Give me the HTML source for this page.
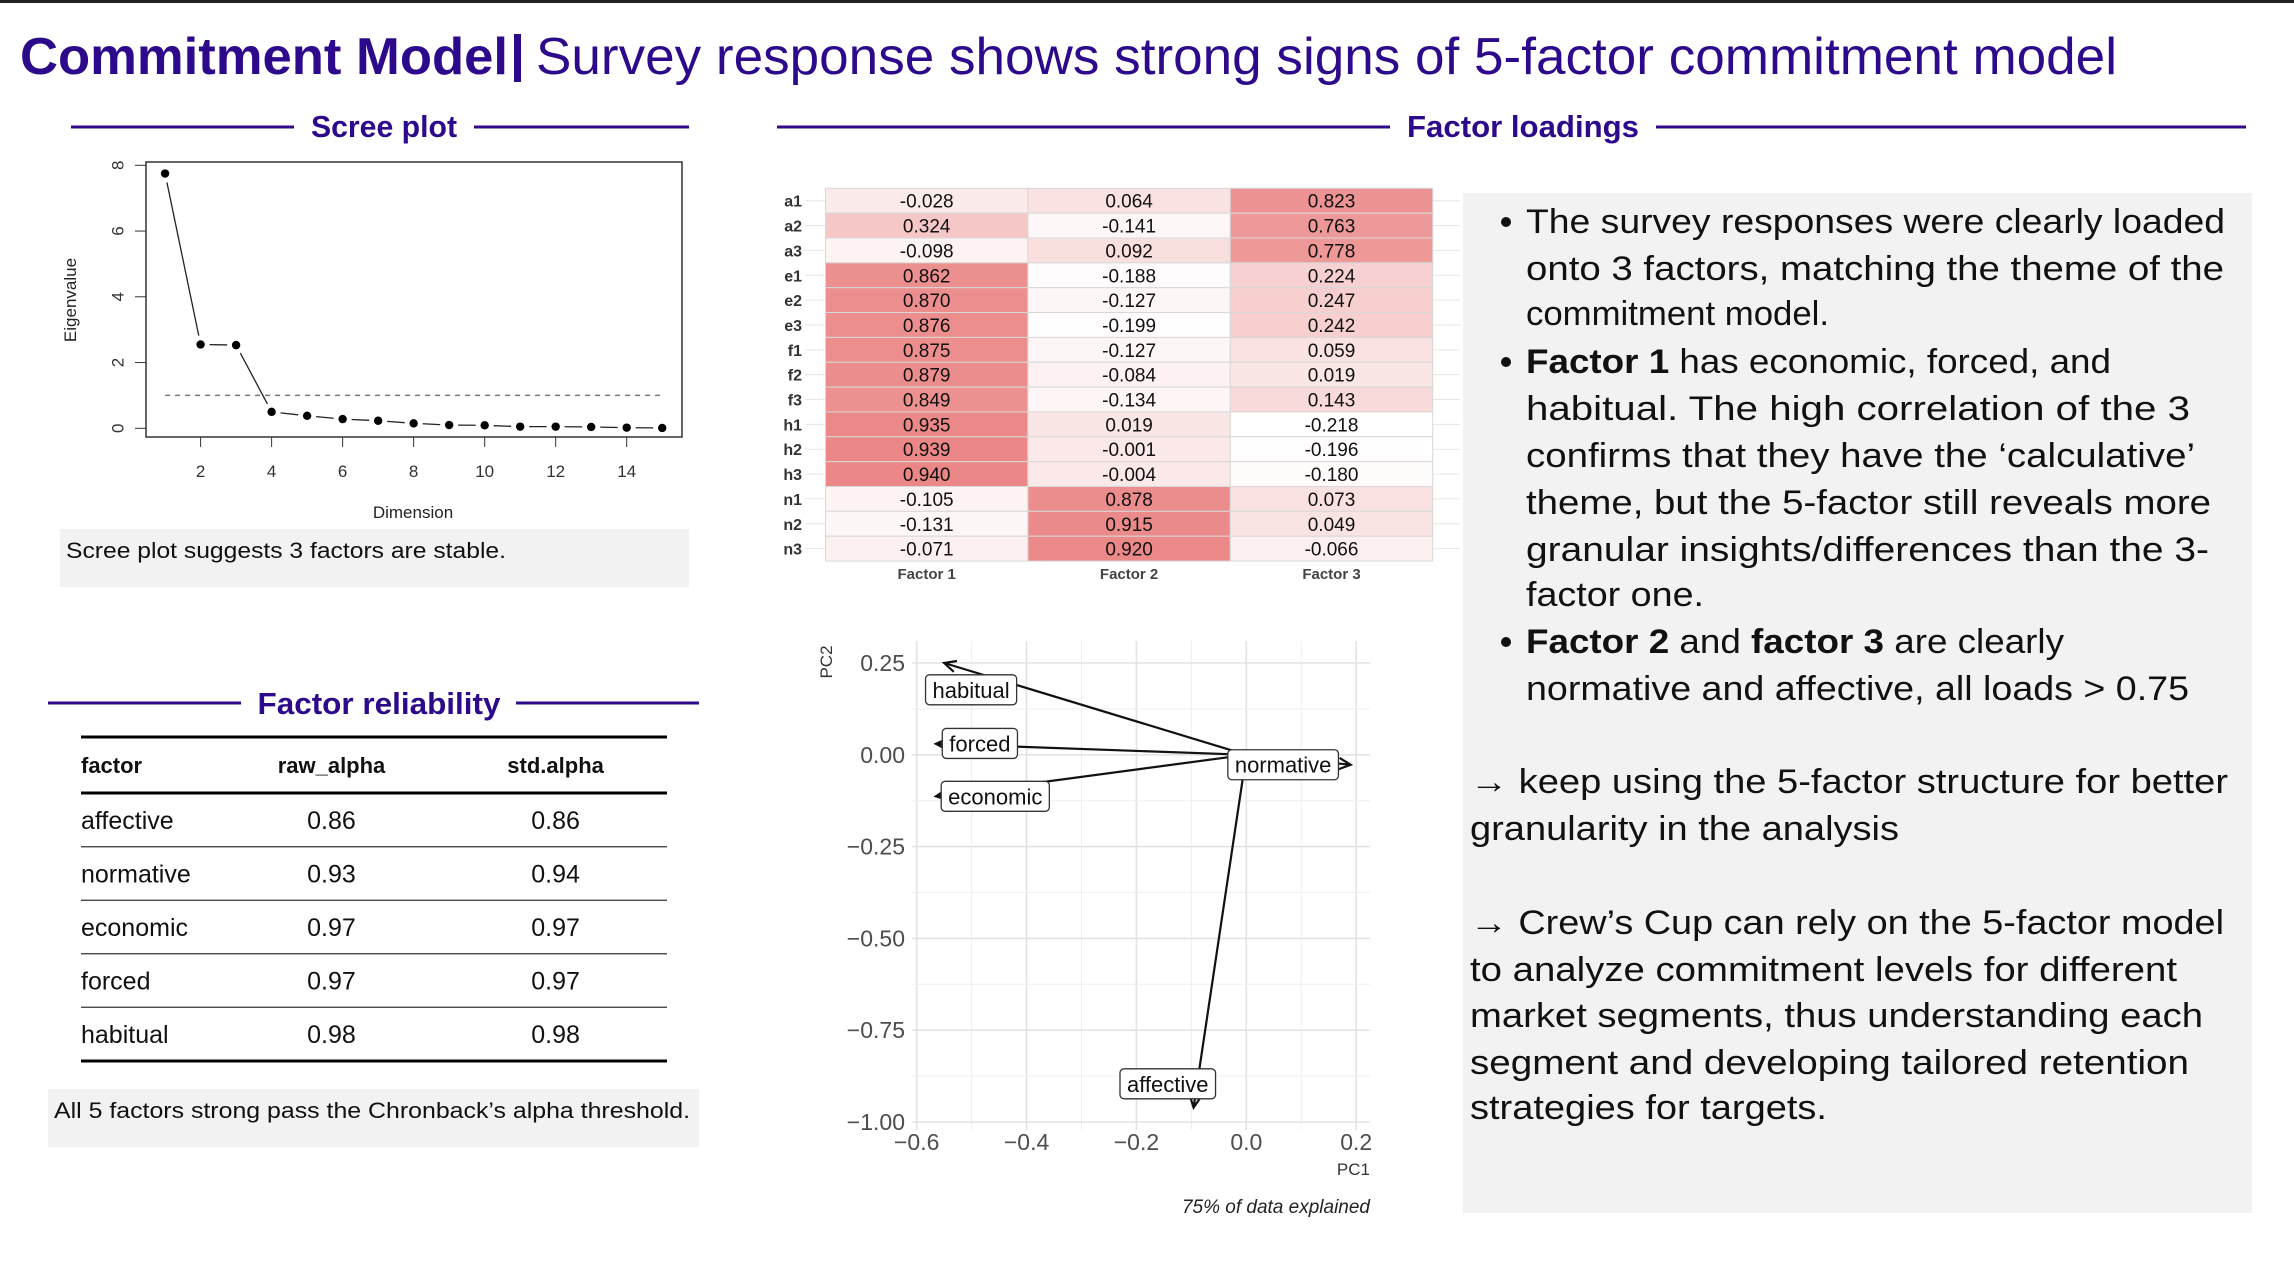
<!DOCTYPE html>
<html><head><meta charset="utf-8"><style>
html,body{margin:0;padding:0;background:#fff}
svg{display:block;font-family:"Liberation Sans",sans-serif}
</style></head><body>
<svg id="root" width="2294" height="1288" viewBox="0 0 2294 1288" xmlns="http://www.w3.org/2000/svg">
<rect x="0" y="0" width="2294" height="3" fill="#222"/>
<g fill="#2d0a8c">
<text x="20" y="74" font-size="52" font-weight="bold" textLength="488" lengthAdjust="spacingAndGlyphs">Commitment Model</text>
<rect x="514" y="34" width="7" height="48" fill="#2d0a8c"/>
<text x="536" y="74" font-size="52" textLength="1581" lengthAdjust="spacingAndGlyphs">Survey response shows strong signs of 5-factor commitment model</text>
</g>
<g fill="#2d0a8c" font-weight="bold" font-size="31" text-anchor="middle">
<g><line x1="71" y1="127" x2="294" y2="127" stroke="#2d0a8c" stroke-width="3"/><line x1="474" y1="127" x2="689" y2="127" stroke="#2d0a8c" stroke-width="3"/><text x="384" y="137" textLength="146" lengthAdjust="spacingAndGlyphs">Scree plot</text></g>
<g><line x1="777" y1="127" x2="1390" y2="127" stroke="#2d0a8c" stroke-width="3"/><line x1="1656" y1="127" x2="2246" y2="127" stroke="#2d0a8c" stroke-width="3"/><text x="1523" y="137" textLength="232" lengthAdjust="spacingAndGlyphs">Factor loadings</text></g>
<g><line x1="48" y1="703" x2="241" y2="703" stroke="#2d0a8c" stroke-width="3"/><line x1="516" y1="703" x2="699" y2="703" stroke="#2d0a8c" stroke-width="3"/><text x="379" y="714" textLength="243" lengthAdjust="spacingAndGlyphs">Factor reliability</text></g>
</g>
<g id="scree"></g>
<rect x="60" y="529" width="629" height="58" fill="#f2f2f2"/>
<text x="66" y="558" font-size="22" fill="#111" textLength="440" lengthAdjust="spacingAndGlyphs">Scree plot suggests 3 factors are stable.</text>
<g id="heat"></g>
<g id="bip"></g>
<g id="tbl"></g>
<rect x="48" y="1089" width="651" height="58" fill="#f2f2f2"/>
<text x="54" y="1118" font-size="22" fill="#111" textLength="636" lengthAdjust="spacingAndGlyphs">All 5 factors strong pass the Chronback’s alpha threshold.</text>
<rect x="1463" y="193" width="789" height="1020" fill="#f2f2f2"/>
<g font-size="34" fill="#111">
<circle cx="1506" cy="222" r="5" fill="#111"/><circle cx="1506" cy="362" r="5" fill="#111"/><circle cx="1506" cy="642" r="5" fill="#111"/>
<text x="1526" y="233" textLength="699" lengthAdjust="spacingAndGlyphs">The survey responses were clearly loaded</text>
<text x="1526" y="280" textLength="698" lengthAdjust="spacingAndGlyphs">onto 3 factors, matching the theme of the</text>
<text x="1526" y="325" textLength="303" lengthAdjust="spacingAndGlyphs">commitment model.</text>
<text x="1526" y="373" textLength="585" lengthAdjust="spacingAndGlyphs"><tspan font-weight="bold">Factor 1</tspan> has economic, forced, and</text>
<text x="1526" y="420" textLength="664" lengthAdjust="spacingAndGlyphs">habitual. The high correlation of the 3</text>
<text x="1526" y="467" textLength="669" lengthAdjust="spacingAndGlyphs">confirms that they have the ‘calculative’</text>
<text x="1526" y="514" textLength="685" lengthAdjust="spacingAndGlyphs">theme, but the 5-factor still reveals more</text>
<text x="1526" y="561" textLength="683" lengthAdjust="spacingAndGlyphs">granular insights/differences than the 3-</text>
<text x="1526" y="606" textLength="178" lengthAdjust="spacingAndGlyphs">factor one.</text>
<text x="1526" y="653" textLength="538" lengthAdjust="spacingAndGlyphs"><tspan font-weight="bold">Factor 2</tspan> and <tspan font-weight="bold">factor 3</tspan> are clearly</text>
<text x="1526" y="700" textLength="663" lengthAdjust="spacingAndGlyphs">normative and affective, all loads &gt; 0.75</text>
<text x="1470" y="793" textLength="758" lengthAdjust="spacingAndGlyphs">→ keep using the 5-factor structure for better</text>
<text x="1470" y="840" textLength="429" lengthAdjust="spacingAndGlyphs">granularity in the analysis</text>
<text x="1470" y="934" textLength="754" lengthAdjust="spacingAndGlyphs">→ Crew’s Cup can rely on the 5-factor model</text>
<text x="1470" y="981" textLength="707" lengthAdjust="spacingAndGlyphs">to analyze commitment levels for different</text>
<text x="1470" y="1027" textLength="733" lengthAdjust="spacingAndGlyphs">market segments, thus understanding each</text>
<text x="1470" y="1074" textLength="719" lengthAdjust="spacingAndGlyphs">segment and developing tailored retention</text>
<text x="1470" y="1119" textLength="357" lengthAdjust="spacingAndGlyphs">strategies for targets.</text>
</g>
</svg>
<script>
const NS='http://www.w3.org/2000/svg';
const screeDims=[1,2,3,4,5,6,7,8,9,10,11,12,13,14,15];
const screeEigen=[7.75,2.55,2.53,0.5,0.38,0.28,0.23,0.15,0.1,0.09,0.05,0.05,0.04,0.02,0.01];
const screeXTicks=[2,4,6,8,10,12,14];
const screeYTicks=[0,2,4,6,8];
const loadRows=['a1','a2','a3','e1','e2','e3','f1','f2','f3','h1','h2','h3','n1','n2','n3'];
const loadCols=['Factor 1','Factor 2','Factor 3'];
const loadF1=[-0.028,0.324,-0.098,0.862,0.870,0.876,0.875,0.879,0.849,0.935,0.939,0.940,-0.105,-0.131,-0.071];
const loadF2=[0.064,-0.141,0.092,-0.188,-0.127,-0.199,-0.127,-0.084,-0.134,0.019,-0.001,-0.004,0.878,0.915,0.920];
const loadF3=[0.823,0.763,0.778,0.224,0.247,0.242,0.059,0.019,0.143,-0.218,-0.196,-0.180,0.073,0.049,-0.066];
const bipNames=['habitual','forced','economic','normative','affective'];
const bipPC1=[-0.55,-0.565,-0.565,0.19,-0.096];
const bipPC2=[0.25,0.03,-0.113,-0.027,-0.961];
const bipLabelPC1=[-0.501,-0.485,-0.457,0.067,-0.143];
const bipLabelPC2=[0.177,0.031,-0.113,-0.027,-0.896];
const bipXTicks=[-0.6,-0.4,-0.2,0.0,0.2];
const bipYTicks=[0.25,0.00,-0.25,-0.50,-0.75,-1.00];
const relFactors=['affective','normative','economic','forced','habitual'];
const relRaw=['0.86','0.93','0.97','0.97','0.98'];
const relStd=['0.86','0.94','0.97','0.97','0.98'];

function mk(tag,attrs,parent,txt){const e=document.createElementNS(NS,tag);for(const k in attrs)e.setAttribute(k,attrs[k]);if(txt!==undefined)e.textContent=txt;parent.appendChild(e);return e;}

(function(){
const g=document.getElementById('scree');
const sx=v=>200.6+(v-2)*(626.7-200.6)/12;
const sy=v=>428.3-(v)*(428.3-165.3)/8;
let r=mk('rect',{x:146,y:162,width:536,height:275,fill:'none',stroke:'#333','stroke-width':1.5},g);


screeYTicks.forEach(t=>{
 mk('line',{x1:135,x2:146,y1:sy(t),y2:sy(t),stroke:'#333'},g);
 const tx=mk('text',{x:118,y:sy(t),'font-size':17,fill:'#333','text-anchor':'middle',transform:`rotate(-90 118 ${sy(t)})`,'dominant-baseline':'central'},g,String(t));
 
 
});
mk('line',{x1:sx(2),x2:sx(14),y1:437,y2:437,stroke:'#333'},g);
screeXTicks.forEach(t=>{
 mk('line',{x1:sx(t),x2:sx(t),y1:437,y2:447,stroke:'#333'},g);
 const tx=mk('text',{x:sx(t),y:477,'font-size':17,fill:'#333','text-anchor':'middle'},g,String(t));
 
 
});
let xl=mk('text',{x:413,y:518,'font-size':17,fill:'#222','text-anchor':'middle'},g,'Dimension');


let yl=mk('text',{x:76,y:300,'font-size':17,fill:'#222','text-anchor':'middle',transform:'rotate(-90 76 300)'},g,'Eigenvalue');


let ref=mk('line',{x1:sx(1),x2:sx(15),y1:sy(1),y2:sy(1),stroke:'#777','stroke-width':1.5,'stroke-dasharray':'5 5'},g);


for(let i=0;i<screeDims.length-1;i++){
 const x1=sx(screeDims[i]),y1=sy(screeEigen[i]),x2=sx(screeDims[i+1]),y2=sy(screeEigen[i+1]);
 const d=Math.hypot(x2-x1,y2-y1),gap=9;
 if(d>2*gap+2){const ux=(x2-x1)/d,uy=(y2-y1)/d;
  const l=mk('line',{x1:x1+ux*gap,y1:y1+uy*gap,x2:x2-ux*gap,y2:y2-uy*gap,stroke:'#222','stroke-width':1.3},g);
  
  }
}
screeDims.forEach((d,i)=>{
 const c=mk('circle',{cx:sx(d),cy:sy(screeEigen[i]),r:4.2,fill:'#000'},g);
 
 
});
})();

(function(){
const g=document.getElementById('heat');
const x0=825.5,cw=202.4,y0=188.3,rh=24.85;
const cols=[loadF1,loadF2,loadF3];
const all=loadF1.concat(loadF2,loadF3);
const mn=Math.min(...all),mx=Math.max(...all);
const col=v=>{const t=(v-mn)/(mx-mn);return `rgb(${Math.round(255-t*20)},${Math.round(255-t*120)},${Math.round(255-t*120)})`;};
loadRows.forEach((rn,i)=>{
 const y=y0+i*rh;
 mk('line',{x1:805,x2:1460,y1:y+rh/2,y2:y+rh/2,stroke:'#e6e6e6','stroke-width':1},g);
 const lb=mk('text',{x:802,y:y+rh/2+6,'font-size':16,'font-weight':'bold',fill:'#333','text-anchor':'end'},g,rn);
 
 
});
cols.forEach((vals,j)=>{
 vals.forEach((v,i)=>{
  const r=mk('rect',{x:x0+j*cw,y:y0+i*rh,width:cw,height:rh,fill:col(v),stroke:'#d8d8d8','stroke-width':1},g);
  
  
  const t=mk('text',{x:x0+j*cw+cw/2,y:y0+i*rh+rh/2+7,'font-size':19,fill:'#111','text-anchor':'middle'},g,v.toFixed(3));
  
  
 });
});
loadCols.forEach((c,j)=>{
 const t=mk('text',{x:x0+j*cw+cw/2,y:579,'font-size':15,'font-weight':'bold',fill:'#444','text-anchor':'middle'},g,c);
 
 
});
})();

(function(){
const g=document.getElementById('bip');
const px=v=>916.7+(v+0.6)*(1356.2-916.7)/0.8;
const py=v=>663+(0.25-v)*(1122-663)/1.25;
const L=912,R=1370,T=641,B=1130;
for(let k=0;k<=8;k++){const v=-0.6+k*0.1;const maj=k%2===0;
 mk('line',{x1:px(v),x2:px(v),y1:T,y2:B,stroke:maj?'#e3e3e3':'#efefef','stroke-width':maj?1.6:1},g);}
for(let k=0;k<=10;k++){const v=0.25-k*0.125;const maj=k%2===0;
 mk('line',{x1:L,x2:R,y1:py(v),y2:py(v),stroke:maj?'#e3e3e3':'#efefef','stroke-width':maj?1.6:1},g);}
bipXTicks.forEach(t=>{
 const tx=mk('text',{x:px(t),y:1150,'font-size':23,fill:'#4d4d4d','text-anchor':'middle'},g,(t<0?'\u2212':'')+Math.abs(t).toFixed(1));
 
 
});
bipYTicks.forEach(t=>{
 const tx=mk('text',{x:905,y:py(t)+8,'font-size':23,fill:'#4d4d4d','text-anchor':'end'},g,(t<0?'\u2212':'')+Math.abs(t).toFixed(2));
 
 
});
let xl=mk('text',{x:1370,y:1175,'font-size':17,fill:'#333','text-anchor':'end'},g,'PC1');


let yl=mk('text',{x:832,y:662,'font-size':17,fill:'#333','text-anchor':'middle',transform:'rotate(-90 832 662)'},g,'PC2');


let cap=mk('text',{x:1370,y:1213,'font-size':19,'font-style':'italic',fill:'#222','text-anchor':'end'},g,'75% of data explained');


const ox=px(0),oy=py(0);
bipNames.forEach((n,i)=>{
 const tx=px(bipPC1[i]),ty=py(bipPC2[i]);
 const a=mk('line',{x1:ox,y1:oy,x2:tx,y2:ty,stroke:'#111','stroke-width':2.2},g);
 
 
 const ang=Math.atan2(ty-oy,tx-ox),h=13;
 const p=`M${tx-h*Math.cos(ang-0.45)},${ty-h*Math.sin(ang-0.45)} L${tx},${ty} L${tx-h*Math.cos(ang+0.45)},${ty-h*Math.sin(ang+0.45)}`;
 const ah=mk('path',{d:p,fill:'none',stroke:'#111','stroke-width':2.2},g);
 
 
});
bipNames.forEach((n,i)=>{
 const cx=px(bipLabelPC1[i]),cy=py(bipLabelPC2[i]);
 const grp=mk('g',{},g);
 
 
 const box=mk('rect',{x:0,y:cy-15,width:10,height:30,rx:4,fill:'#fff',stroke:'#333','stroke-width':1.3},grp);
 const t=mk('text',{x:cx,y:cy+8,'font-size':22,fill:'#111','text-anchor':'middle'},grp,n);
 const w=t.getComputedTextLength()+14;
 box.setAttribute('x',cx-w/2);box.setAttribute('width',w);
});
})();

(function(){
const g=document.getElementById('tbl');
const X0=81,X1=667,cRaw=331.5,cStd=555.6;
mk('line',{x1:X0,x2:X1,y1:737,y2:737,stroke:'#000','stroke-width':3},g);
mk('line',{x1:X0,x2:X1,y1:793,y2:793,stroke:'#000','stroke-width':3},g);
mk('line',{x1:X0,x2:X1,y1:1061,y2:1061,stroke:'#000','stroke-width':3},g);
const hd=[['factor',X0,'start'],['raw_alpha',cRaw,'middle'],['std.alpha',cStd,'middle']];
hd.forEach(h=>{const t=mk('text',{x:h[1],y:773,'font-size':22,'font-weight':'bold',fill:'#111','text-anchor':h[2]},g,h[0]);
 
 });
const rh=53.5;
relFactors.forEach((f,i)=>{
 const cy=820+i*rh;
 if(i>0)mk('line',{x1:X0,x2:X1,y1:cy-rh/2,y2:cy-rh/2,stroke:'#333','stroke-width':1.3},g);
 const a=mk('text',{x:X0,y:cy+9,'font-size':25,fill:'#111'},g,f);
 
 
 const b=mk('text',{x:cRaw,y:cy+9,'font-size':25,fill:'#111','text-anchor':'middle'},g,relRaw[i]);
 
 
 const c=mk('text',{x:cStd,y:cy+9,'font-size':25,fill:'#111','text-anchor':'middle'},g,relStd[i]);
 
 
});
})();
</script>
</body></html>
